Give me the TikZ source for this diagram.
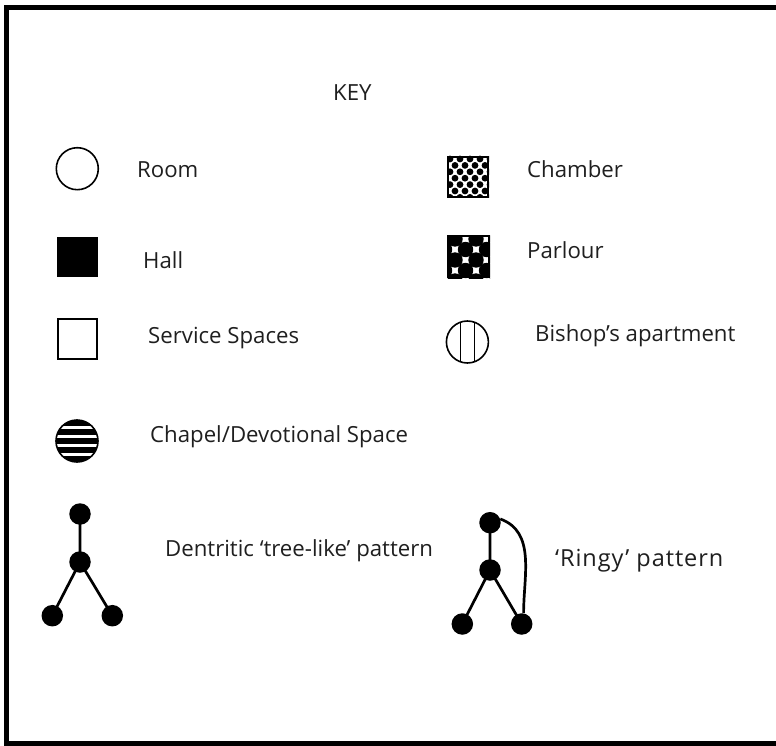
\documentclass[tikz,border=0pt]{standalone}
\usepackage{fontspec}
\setmainfont{Open Sans}
\begin{document}
\begin{tikzpicture}[x=1pt,y=-1pt,
  lbl/.style={anchor=base west,inner sep=0pt,font=\fontsize{22.2}{26}\selectfont,text=black!88},
  gnode/.style={circle,fill=black,minimum size=21.5pt,inner sep=0pt},
  gline/.style={line width=2.7pt},
  iconline/.style={line width=1.6pt}]
\useasboundingbox (0,0) rectangle (776,746);
\fill[white] (0,0) rectangle (776,746);
% frame
\draw[line width=5pt] (776,7.5) -- (6.5,7.5) -- (6.5,743.5) -- (776,743.5);
% title
\node[lbl] (key) at (333,101) {KEY};
% Room
\draw[iconline] (77.3,168.7) circle (21);
\node[lbl] (room) at (137,178) {Room};
% Hall
\fill (57,237) rectangle (98,277);
\node[lbl] (hall) at (143,268) {Hall};
% Service
\draw[iconline] (57.8,318.8) rectangle (97.2,359.2);
\node[lbl] (serv) at (148,343) {Service Spaces};
% Chapel
\begin{scope}
\clip (77,441) circle (21);
\fill (56,420) rectangle (98,462);
\foreach \dy in {-13.5,-4.5,4.5,13.5}
  \fill[white] (55,441+\dy-1.8) rectangle (99,441+\dy+1.8);
\end{scope}
\draw[iconline] (77,441) circle (21);
\node[lbl] (chapel) at (150,442) {Chapel/Devotional Space};
% Chamber
\begin{scope}
\clip (447,156) rectangle (489,198);
\foreach \r in {0,...,7}
  \foreach \c in {-1,...,5}
    \fill ({447+3+\c*10+mod(\r,2)*5},{156+3+\r*6.4}) circle (3.4);
\end{scope}
\draw[iconline] (447.8,156.8) rectangle (488.2,197.2);
\node[lbl] (chamber) at (527,178) {Chamber};
% Parlour
\begin{scope}
\clip (447,235) rectangle (490,278);
\fill[white] (447,235) rectangle (490,278);
\foreach \i in {-1,...,5}
  \foreach \j in {-1,...,5}
    {\pgfmathparse{int(mod(\i+\j+20,2))}
     \ifnum\pgfmathresult=0
       \fill ({447+8+\i*10.5},{235+4+\j*10.5}) circle (7.7);
     \fi}
\end{scope}
\draw[iconline] (447.8,235.8) rectangle (489.2,277.2);
\node[lbl] (parlour) at (527,258) {Parlour};
% Bishop
\draw[line width=1.1pt] (460.5,{342-sqrt(21*21-6.8*6.8)}) -- (460.5,{342+sqrt(21*21-6.8*6.8)});
\draw[line width=1.1pt] (474.3,{342-sqrt(21*21-6.8*6.8)}) -- (474.3,{342+sqrt(21*21-6.8*6.8)});
\draw[iconline] (467.4,342) circle (21);
\node[lbl] (bishop) at (535,341) {Bishop’s apartment};
% Tree pattern
\node[gnode] (t1) at (80,514) {};
\node[gnode] (t2) at (80,562) {};
\node[gnode] (t3) at (52.3,615.7) {};
\node[gnode] (t4) at (112.3,615.7) {};
\draw[gline] (t1.center) -- (t2.center) -- (t3.center);
\draw[gline] (t2.center) -- (t4.center);
\node[lbl] (tree) at (165,556) {Dentritic ‘tree-like’ pattern};
% Ringy pattern
\node[gnode] (r1) at (490,522.7) {};
\node[gnode] (r2) at (490,570) {};
\node[gnode] (r3) at (462.3,624) {};
\node[gnode] (r4) at (521.7,624) {};
\draw[gline] (r1.center) -- (r2.center) -- (r3.center);
\draw[gline] (r2.center) -- (r4.center);
\draw[gline] (r1.20) to[out=-20,in=90] (r4.80);
\node[lbl,font=\fontsize{23.5}{27}\selectfont] (ringy) at (555,566) {\addfontfeatures{LetterSpace=4}‘Ringy’ pattern};
\end{tikzpicture}
\end{document}
